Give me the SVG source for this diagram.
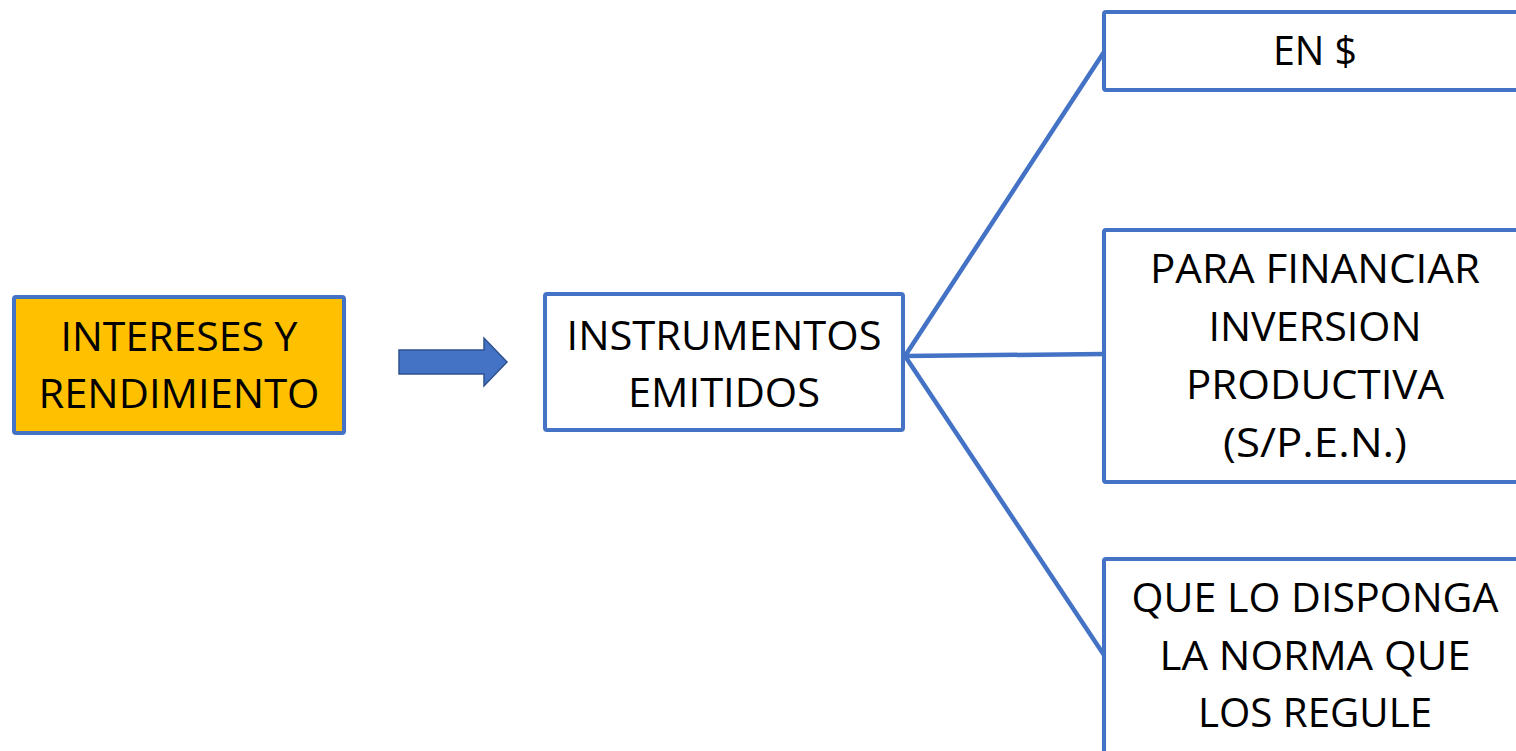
<svg xmlns="http://www.w3.org/2000/svg" width="1516" height="751" viewBox="0 0 1516 751">
<style>
.box{stroke:#4472C4;stroke-width:4;fill:#FFFFFF}
.hl{fill:#FFC000}
.t{font-family:"Open Sans","Liberation Sans",sans-serif;font-size:40px;fill:#000000;text-anchor:middle}
.conn{stroke:#4472C4;stroke-width:4.5;fill:none;stroke-linecap:round}
</style>
<rect width="1516" height="751" fill="#FFFFFF"/>
<g id="connectors">
<line class="conn" x1="905" y1="356" x2="1104" y2="52"/>
<line class="conn" x1="905" y1="356" x2="1104" y2="354"/>
<line class="conn" x1="905" y1="356" x2="1104" y2="655"/>
</g>
<g id="arrow">
<polygon points="399,350 484,350 484,338 507,362 484,386 484,374 399,374" fill="#4472C4" stroke="#2F528F" stroke-width="1.5"/>
</g>
<g id="node-intereses">
<rect class="box hl" x="14" y="297" width="330" height="136" rx="2"/>
<text class="t" x="179" y="351" textLength="237" lengthAdjust="spacingAndGlyphs">INTERESES Y</text>
<text class="t" x="179" y="408" textLength="281" lengthAdjust="spacingAndGlyphs">RENDIMIENTO</text>
</g>
<g id="node-instrumentos">
<rect class="box" x="545" y="294" width="358" height="136" rx="2"/>
<text class="t" x="724" y="350" textLength="315" lengthAdjust="spacingAndGlyphs">INSTRUMENTOS</text>
<text class="t" x="724" y="407" textLength="192" lengthAdjust="spacingAndGlyphs">EMITIDOS</text>
</g>
<g id="node-en">
<rect class="box" x="1104" y="12" width="430" height="78" rx="2"/>
<text class="t" x="1315" y="65" textLength="84" lengthAdjust="spacingAndGlyphs">EN $</text>
</g>
<g id="node-financiar">
<rect class="box" x="1104" y="230" width="430" height="252" rx="2"/>
<text class="t" x="1315" y="283" textLength="330" lengthAdjust="spacingAndGlyphs">PARA FINANCIAR</text>
<text class="t" x="1315" y="341" textLength="213" lengthAdjust="spacingAndGlyphs">INVERSION</text>
<text class="t" x="1315" y="399" textLength="258" lengthAdjust="spacingAndGlyphs">PRODUCTIVA</text>
<text class="t" x="1315" y="457" textLength="184" lengthAdjust="spacingAndGlyphs">(S/P.E.N.)</text>
</g>
<g id="node-norma">
<rect class="box" x="1104" y="559" width="430" height="220" rx="2"/>
<text class="t" x="1315" y="612" textLength="367" lengthAdjust="spacingAndGlyphs">QUE LO DISPONGA</text>
<text class="t" x="1315" y="670" textLength="311" lengthAdjust="spacingAndGlyphs">LA NORMA QUE</text>
<text class="t" x="1315" y="727" textLength="234" lengthAdjust="spacingAndGlyphs">LOS REGULE</text>
</g>
</svg>
